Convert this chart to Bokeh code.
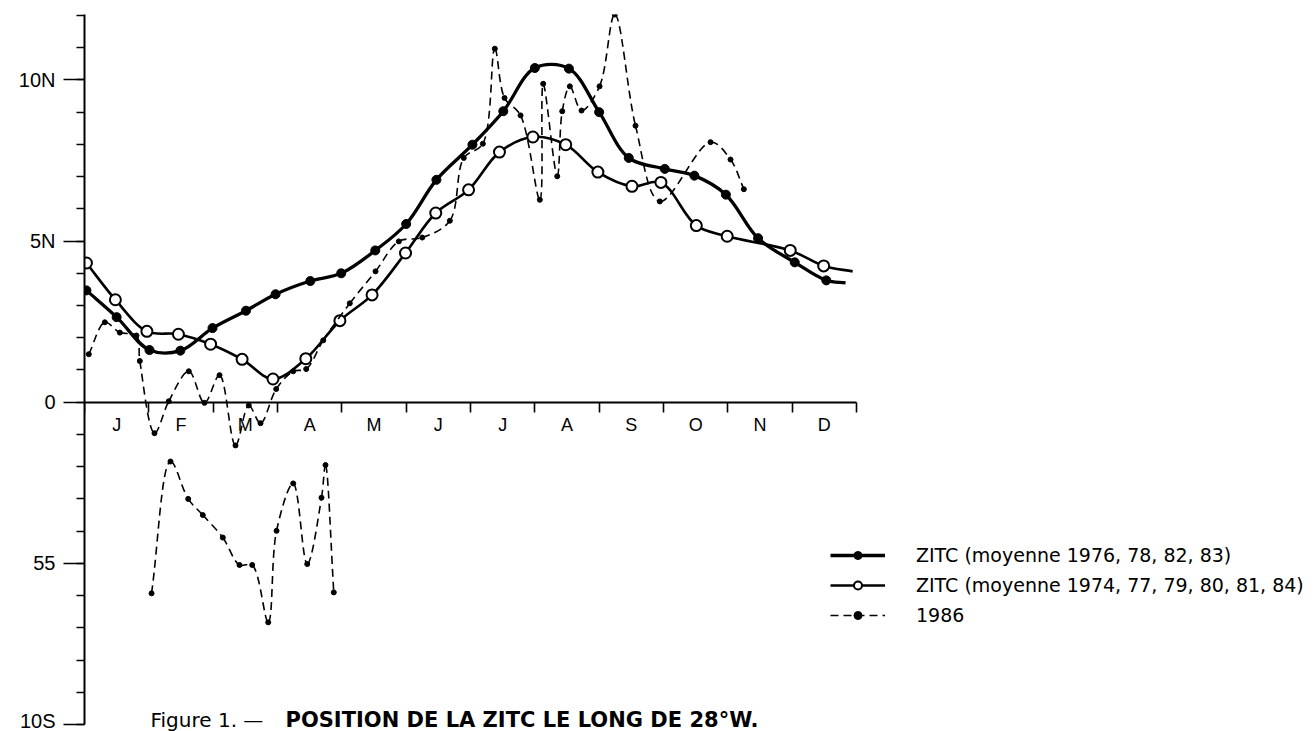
import numpy as np
from bokeh.plotting import figure
from bokeh.models import Range1d, LinearAxis, FixedTicker, Legend, LegendItem, Label
from bokeh.embed import file_html
from bokeh.resources import INLINE

# ---------------- data ----------------
month_labels = ["J", "F", "M", "A", "M", "J", "J", "A", "S", "O", "N", "D"]
month_edges = list(range(13))
month_centers = [i + 0.5 for i in range(12)]

y_major = [-10, -5, 0, 5, 10]
y_major_labels = ["10S", "55", "0", "5N", "10N"]
y_minor = list(range(-10, 13))

# ZITC mean 1976, 78, 82, 83 (filled circles); x in months from 1 Jan
a_x = [0.03, 0.50, 1.01, 1.49, 1.99, 2.51, 2.97, 3.51, 3.99, 4.52, 5.00, 5.47,
       6.03, 6.51, 7.00, 7.53, 8.00, 8.46, 9.02, 9.48, 9.97, 10.47, 11.04, 11.53]
a_y = [3.47, 2.64, 1.62, 1.60, 2.30, 2.84, 3.35, 3.76, 4.00, 4.71, 5.53, 6.90,
       7.99, 9.03, 10.37, 10.35, 9.00, 7.58, 7.24, 7.03, 6.44, 5.09, 4.34, 3.78]
a_tail_x = [11.83]
a_tail_y = [3.70]

# ZITC mean 1974, 77, 79, 80, 81, 84 (open circles)
b_x = [0.03, 0.48, 0.97, 1.46, 1.96, 2.45, 2.93, 3.44, 3.97, 4.47, 4.99, 5.46,
       5.97, 6.45, 6.97, 7.48, 7.98, 8.51, 8.96, 9.51, 9.99, 10.97, 11.49]
b_y = [4.32, 3.18, 2.20, 2.11, 1.80, 1.33, 0.72, 1.35, 2.53, 3.33, 4.63, 5.87,
       6.59, 7.76, 8.23, 7.99, 7.14, 6.70, 6.82, 5.48, 5.15, 4.71, 4.23]
b_tail_x = [11.94]
b_tail_y = [4.06]

# 1986 (dashed) - upper trace
c_x = [0.067, 0.316, 0.549, 0.808, 0.860, 1.088, 1.310, 1.621, 1.865, 2.099,
       2.347, 2.554, 2.736, 2.980, 3.244, 3.446, 3.711, 4.124, 4.524, 4.886,
       5.250, 5.679, 5.896, 6.192, 6.378, 6.529, 6.778, 7.078, 7.130, 7.348,
       7.426, 7.544, 7.726, 8.006, 8.243, 8.565, 8.943, 9.731, 10.042, 10.249]
c_y = [1.49, 2.48, 2.16, 2.07, 1.28, -0.96, 0.03, 0.96, -0.02, 0.84,
       -1.34, -0.10, -0.65, 0.41, 0.96, 1.03, 1.92, 3.07, 4.06, 4.99,
       5.11, 5.63, 7.58, 8.02, 10.97, 9.44, 8.90, 6.28, 9.88, 7.01,
       9.03, 9.80, 9.05, 9.80, 12.03, 8.58, 6.23, 8.07, 7.53, 6.61]

# 1986 (dashed) - lower trace
d_x = [1.042, 1.337, 1.612, 1.839, 2.150, 2.409, 2.607, 2.856, 2.985, 3.244,
       3.462, 3.684, 3.746, 3.875]
d_y = [-5.93, -1.84, -3.00, -3.50, -4.20, -5.05, -5.05, -6.83, -3.99, -2.52,
       -5.02, -2.96, -1.95, -5.90]

legend_labels = ["ZITC (moyenne 1976, 78, 82, 83)",
                 "ZITC (moyenne 1974, 77, 79, 80, 81, 84)",
                 "1986"]
caption_plain = "Figure 1. \u2014"
caption_bold = "POSITION DE LA ZITC LE LONG DE 28\u00b0W."

# ---------------- geometry ----------------
W, H = 1316, 731
LEFT, TOP = 84, 14
PX_X = 772.0 / 12.0          # pixels per month
PX_Y = 32.23                 # pixels per degree
X_END = (W - LEFT) / PX_X
Y_TOP = 12.03
Y_BOT = Y_TOP - (H - TOP) / PX_Y


def smooth(xs, ys):
    """Centripetal Catmull-Rom through the points, as cubic Bezier segments."""
    P = np.column_stack([np.asarray(xs, float) * PX_X, np.asarray(ys, float) * PX_Y])
    ext = np.vstack([2 * P[0] - P[1], P, 2 * P[-1] - P[-2]])
    out = {k: [] for k in ("x0", "y0", "x1", "y1", "cx0", "cy0", "cx1", "cy1")}
    for i in range(len(P) - 1):
        p0, p1, p2, p3 = ext[i], ext[i + 1], ext[i + 2], ext[i + 3]
        d1 = max(np.linalg.norm(p1 - p0) ** 0.5, 1e-6)
        d2 = max(np.linalg.norm(p2 - p1) ** 0.5, 1e-6)
        d3 = max(np.linalg.norm(p3 - p2) ** 0.5, 1e-6)
        c1 = (d1 * d1 * p2 - d2 * d2 * p0 + (2 * d1 * d1 + 3 * d1 * d2 + d2 * d2) * p1) / (3 * d1 * (d1 + d2))
        c2 = (d3 * d3 * p1 - d2 * d2 * p3 + (2 * d3 * d3 + 3 * d3 * d2 + d2 * d2) * p2) / (3 * d3 * (d3 + d2))
        out["x0"].append(p1[0] / PX_X); out["y0"].append(p1[1] / PX_Y)
        out["x1"].append(p2[0] / PX_X); out["y1"].append(p2[1] / PX_Y)
        out["cx0"].append(c1[0] / PX_X); out["cy0"].append(c1[1] / PX_Y)
        out["cx1"].append(c2[0] / PX_X); out["cy1"].append(c2[1] / PX_Y)
    return out


p = figure(width=W, height=H, x_range=Range1d(0, X_END), y_range=Range1d(Y_BOT, Y_TOP),
           output_backend="svg", toolbar_location=None,
           x_axis_location=None, y_axis_location=None,
           min_border_left=LEFT, min_border_right=0, min_border_top=TOP, min_border_bottom=0)
p.outline_line_color = None
p.xgrid.visible = False
p.ygrid.visible = False

FONT = "Liberation Sans"

# y axis
yax = LinearAxis(bounds=(-10, Y_TOP), ticker=FixedTicker(ticks=y_major, minor_ticks=y_minor),
                 major_label_overrides={v: s for v, s in zip(y_major, y_major_labels)},
                 axis_line_width=2, axis_line_color="black",
                 major_tick_in=0, major_tick_out=21, major_tick_line_width=1.6,
                 minor_tick_in=0, minor_tick_out=8, minor_tick_line_width=1.6,
                 major_label_standoff=8, major_label_text_font=FONT,
                 major_label_text_font_size="20px", major_label_text_color="black")
p.add_layout(yax, "left")

# x axis at the equator (month boundaries)
xax = LinearAxis(fixed_location=0, bounds=(0, 12), ticker=FixedTicker(ticks=month_edges, minor_ticks=[]),
                 axis_line_width=2, axis_line_color="black",
                 major_tick_in=0, major_tick_out=10, major_tick_line_width=1.6,
                 minor_tick_out=0, major_label_text_color=None)
p.add_layout(xax, "below")

# month letters
mlab = LinearAxis(fixed_location=0, bounds=(0, 12), ticker=FixedTicker(ticks=month_centers, minor_ticks=[]),
                  major_label_overrides={v: s for v, s in zip(month_centers, month_labels)},
                  axis_line_color=None, major_tick_line_color=None, minor_tick_line_color=None,
                  major_label_standoff=7, major_label_text_font=FONT,
                  major_label_text_font_size="18px", major_label_text_color="black")
p.add_layout(mlab, "below")

# series A (filled)
sa = smooth(a_x + a_tail_x, a_y + a_tail_y)
ra_line = p.bezier(source=sa, x0="x0", y0="y0", x1="x1", y1="y1", cx0="cx0", cy0="cy0",
                   cx1="cx1", cy1="cy1", line_color="black", line_width=3.3)
ra_pts = p.scatter(a_x, a_y, marker="circle", size=9, fill_color="black", line_color="black")

# series B (open)
sb = smooth(b_x + b_tail_x, b_y + b_tail_y)
rb_line = p.bezier(source=sb, x0="x0", y0="y0", x1="x1", y1="y1", cx0="cx0", cy0="cy0",
                   cx1="cx1", cy1="cy1", line_color="black", line_width=2.6)
rb_pts = p.scatter(b_x, b_y, marker="circle", size=11, fill_color="white", line_color="black", line_width=2)

# 1986 (dashed)
sc = smooth(c_x, c_y)
rc_line = p.bezier(source=sc, x0="x0", y0="y0", x1="x1", y1="y1", cx0="cx0", cy0="cy0",
                   cx1="cx1", cy1="cy1", line_color="black", line_width=1.6, line_dash="8 5")
rc_pts = p.scatter(c_x, c_y, marker="circle", size=5, fill_color="black", line_color="black")
sd = smooth(d_x, d_y)
p.bezier(source=sd, x0="x0", y0="y0", x1="x1", y1="y1", cx0="cx0", cy0="cy0",
         cx1="cx1", cy1="cy1", line_color="black", line_width=1.6, line_dash="8 5")
p.scatter(d_x, d_y, marker="circle", size=5, fill_color="black", line_color="black")

legend = Legend(items=[LegendItem(label=legend_labels[0], renderers=[ra_line, ra_pts]),
                       LegendItem(label=legend_labels[1], renderers=[rb_line, rb_pts]),
                       LegendItem(label=legend_labels[2], renderers=[rc_line, rc_pts])],
                location=(746, 105), orientation="vertical",
                border_line_color=None, background_fill_alpha=0, padding=0, margin=0,
                spacing=8, glyph_width=55, glyph_height=20, label_height=20,
                label_standoff=31, label_text_font="DejaVu Sans",
                label_text_font_size="19px", label_text_color="black")
p.add_layout(legend)

cap1 = Label(x=150 - LEFT, y=12, x_units="screen", y_units="screen", text=caption_plain,
             text_font="DejaVu Sans", text_font_size="20px", text_color="black",
             text_baseline="alphabetic")
cap2 = Label(x=285 - LEFT, y=12, x_units="screen", y_units="screen", text=caption_bold,
             text_font="DejaVu Sans", text_font_size="21px", text_font_style="bold", text_color="black",
             text_baseline="alphabetic")
p.add_layout(cap1)
p.add_layout(cap2)

open("out.html", "w").write(file_html(p, INLINE))
